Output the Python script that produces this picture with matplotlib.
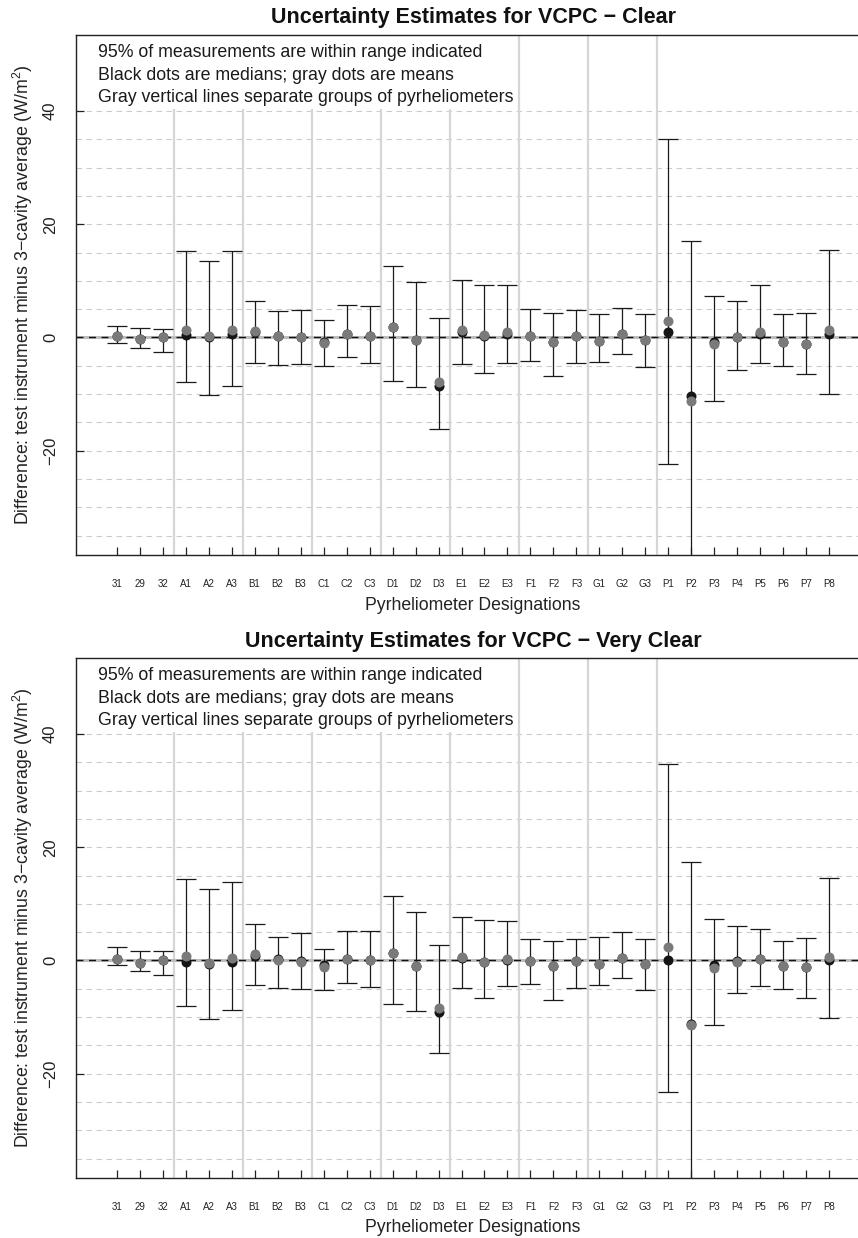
import numpy as np
import matplotlib
matplotlib.use("Agg")
import matplotlib.pyplot as plt
from matplotlib.patches import Rectangle

plt.rcParams['font.family'] = ['Liberation Sans', 'DejaVu Sans']
plt.rcParams['mathtext.fontset'] = 'custom'
plt.rcParams['mathtext.rm'] = 'Liberation Sans'
plt.rcParams['mathtext.it'] = 'Liberation Sans'

# ---------------- data ----------------
labels = ["31", "29", "32", "A1", "A2", "A3", "B1", "B2", "B3", "C1", "C2", "C3",
          "D1", "D2", "D3", "E1", "E2", "E3", "F1", "F2", "F3", "G1", "G2", "G3",
          "P1", "P2", "P3", "P4", "P5", "P6", "P7", "P8"]

# VCPC - Clear
clear_mean = [0.2, -0.35, 0.05, 1.3, 0.35, 1.3, 1.1, 0.2, 0.0, -0.9, 0.6, 0.3,
              1.9, -0.4, -7.9, 1.3, 0.5, 0.9, 0.3, -0.8, 0.2, -0.7, 0.7, -0.5,
              2.9, -11.3, -1.2, 0.05, 0.9, -0.8, -1.1, 1.3]
clear_median = [0.2, -0.3, 0.05, 0.5, 0.05, 0.6, 0.9, 0.3, 0.1, -0.8, 0.6, 0.3,
                1.8, -0.4, -8.6, 0.9, 0.3, 0.65, 0.3, -0.8, 0.2, -0.7, 0.7, -0.5,
                0.9, -10.4, -0.8, 0.05, 0.7, -0.8, -1.1, 0.65]
clear_lo = [-0.9, -1.9, -2.5, -7.9, -10.2, -8.5, -4.5, -4.8, -4.6, -5.0, -3.5, -4.5,
            -7.6, -8.8, -16.2, -4.6, -6.3, -4.5, -4.1, -6.8, -4.5, -4.4, -3.0, -5.2,
            -22.3, -40.0, -11.3, -5.7, -4.5, -5.0, -6.5, -9.9]
clear_hi = [2.1, 1.65, 1.5, 15.3, 13.5, 15.2, 6.5, 4.6, 4.9, 3.1, 5.8, 5.6,
            12.6, 9.8, 3.4, 10.2, 9.2, 9.2, 5.1, 4.4, 4.8, 4.2, 5.2, 4.2,
            35.0, 17.1, 7.4, 6.4, 9.2, 4.2, 4.4, 15.4]

# VCPC - Very Clear
vclear_mean = [0.2, -0.4, 0.1, 0.8, -0.4, 0.5, 1.06, 0.1, -0.2, -1.1, 0.3, 0.05,
               1.3, -1.0, -8.4, 0.6, -0.2, 0.3, -0.05, -0.9, -0.1, -0.65, 0.5, -0.65,
               2.4, -11.4, -1.35, -0.25, 0.35, -0.95, -1.2, 0.6]
vclear_median = [0.2, -0.4, 0.1, -0.2, -0.65, -0.2, 0.8, 0.3, -0.1, -0.8, 0.3, 0.05,
                 1.3, -1.0, -9.1, 0.5, -0.2, 0.1, -0.05, -0.9, -0.1, -0.65, 0.5, -0.65,
                 0.1, -11.2, -0.8, -0.1, 0.25, -0.95, -1.2, 0.05]
vclear_lo = [-0.8, -1.9, -2.5, -8.1, -10.4, -8.8, -4.4, -4.9, -5.1, -5.2, -3.9, -4.7,
             -7.6, -8.9, -16.3, -4.9, -6.6, -4.5, -4.2, -7.0, -4.8, -4.3, -3.1, -5.2,
             -23.2, -40.0, -11.4, -5.8, -4.5, -5.1, -6.6, -10.1]
vclear_hi = [2.3, 1.6, 1.6, 14.4, 12.6, 13.9, 6.4, 4.2, 4.8, 2.1, 5.2, 5.2,
             11.4, 8.6, 2.8, 7.6, 7.1, 6.9, 3.8, 3.5, 3.8, 4.1, 5.1, 3.8,
             34.7, 17.4, 7.3, 6.0, 5.6, 3.5, 3.9, 14.5]

group_breaks = [3.5, 6.5, 9.5, 12.5, 15.5, 18.5, 21.5, 24.5]
yticks = [-20, 0, 20, 40]
ytick_labels = ["\u221220", "0", "20", "40"]
grid_levels = np.arange(-35, 41, 5)

notes = ["95% of measurements are within range indicated",
         "Black dots are medians; gray dots are means",
         "Gray vertical lines separate groups of pyrheliometers"]

panels = [("Uncertainty Estimates for VCPC \u2212 Clear", clear_mean, clear_median, clear_lo, clear_hi),
          ("Uncertainty Estimates for VCPC \u2212 Very Clear", vclear_mean, vclear_median, vclear_lo, vclear_hi)]

# ---------------- figure ----------------
W, H = 858, 1238
fig = plt.figure(figsize=(W / 100, H / 100), dpi=100)

ax_left_px, ax_right_px = 76, 870
panel_tops = [35, 658]
panel_h = 520
x = np.arange(1, len(labels) + 1)
xlim = (-0.77, 33.77)
ylim = (-38.4, 53.4)

for (title, mean, median, lo, hi), top in zip(panels, panel_tops):
    ax = fig.add_axes([ax_left_px / W, 1 - (top + panel_h) / H,
                       (ax_right_px - ax_left_px) / W, panel_h / H])
    ax.set_xlim(*xlim)
    ax.set_ylim(*ylim)

    # horizontal dashed grid
    ax.hlines(grid_levels, xlim[0], xlim[1], colors='#cccccc', linewidth=0.8,
              linestyles=(0, (5, 4)), zorder=1)
    # group separators
    ax.vlines(group_breaks, -60, 60, colors='#d6d6d6', linewidth=1.6, zorder=1.5)
    # white area behind notes
    ax.add_patch(Rectangle((xlim[0], 40.3), 17.5 - xlim[0], 20, facecolor='white',
                           edgecolor='none', zorder=1.8))
    # zero line
    ax.axhline(0, color='#bdbdbd', linewidth=2.2, zorder=2)
    ax.axhline(0, color='#111111', linewidth=1.0, linestyle=(0, (5, 4)), zorder=2.1)

    lo_a = np.array(lo)
    hi_a = np.array(hi)
    ax.errorbar(x, (lo_a + hi_a) / 2, yerr=(hi_a - lo_a) / 2, fmt='none',
                ecolor='#1a1a1a', elinewidth=0.9, capsize=7.2, capthick=0.9, zorder=3)
    ax.plot(x, median, 'o', color='#151515', markersize=7.2, markeredgewidth=0, zorder=4)
    ax.plot(x, mean, 'o', color='#7a7a7a', markersize=7.2, markeredgewidth=0, zorder=5)

    # axes styling
    for s in ax.spines.values():
        s.set_color('#222222')
        s.set_linewidth(1.0)
    ax.set_xticks(x)
    ax.set_xticklabels(labels, fontsize=7, color='#222222')
    ax.tick_params(axis='x', direction='in', length=5.8, width=0.9, pad=17, colors='#222222')
    ax.set_yticks(yticks)
    ax.set_yticklabels(ytick_labels, rotation=90, va='center',
                       fontsize=12, color='#333333')
    ax.tick_params(axis='y', direction='in', length=5.8, width=0.9, pad=13, colors='#222222')

    # title & labels in pixel positions
    fig.text(473 / W, 1 - (top - 17) / H, title, ha='center', va='center',
             fontsize=15.5, fontweight='bold', color='#111111')
    fig.text(473 / W, 1 - (top + panel_h + 50) / H, "Pyrheliometer Designations",
             ha='center', va='center', fontsize=12.7, color='#222222')
    fig.text(23 / W, 1 - (top + panel_h / 2) / H,
             "Difference: test instrument minus 3\u2212cavity average (W/m$^{2}$)",
             rotation=90, ha='center', va='center', fontsize=12.8, color='#222222')
    for i, line in enumerate(notes):
        fig.text(98 / W, 1 - (top + 17.6 + 22.6 * i) / H, line, ha='left', va='center',
                 fontsize=12.8, color='#1a1a1a')

fig.savefig("out.png", dpi=100)
